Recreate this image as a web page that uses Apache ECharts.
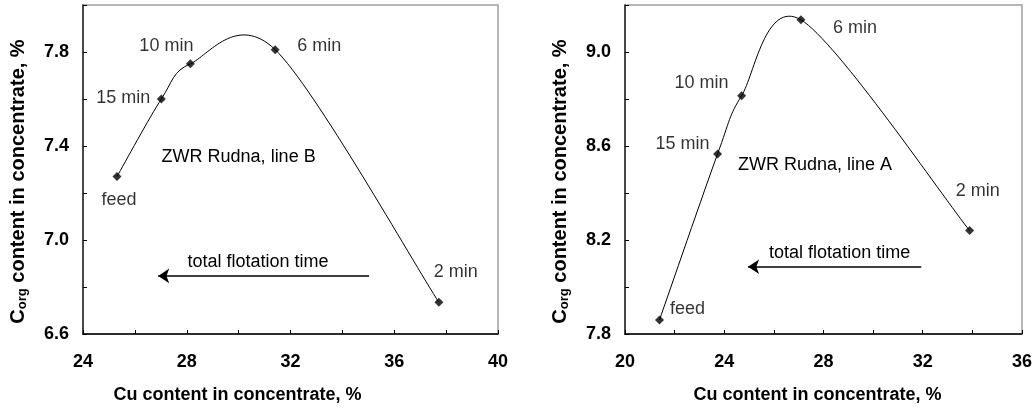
<!DOCTYPE html>
<html><head><meta charset="utf-8">
<script src="https://cdn.jsdelivr.net/npm/echarts@6/dist/echarts.min.js"></script>
<style>html,body{margin:0;padding:0;background:#fff}#c{width:1035px;height:410px}</style>
</head><body><div id="c"></div>
<script>
// ---- data: line B (left) ----
const pointLabelsB = ['feed', '15 min', '10 min', '6 min', '2 min'];
const cuB = [25.31, 27.02, 28.14, 31.41, 37.72];
const corgB = [7.27, 7.60, 7.75, 7.81, 6.735];
const xTickLabelsB = [24, 28, 32, 36, 40];
const yTickLabelsB = [6.6, 7.0, 7.4, 7.8];
const titleB = 'ZWR Rudna, line B';
// ---- data: line A (right) ----
const pointLabelsA = ['feed', '15 min', '10 min', '6 min', '2 min'];
const cuA = [21.39, 23.73, 24.70, 27.09, 33.89];
const corgA = [7.86, 8.566, 8.814, 9.137, 8.24];
const xTickLabelsA = [20, 24, 28, 32, 36];
const yTickLabelsA = [7.8, 8.2, 8.6, 9.0];
const titleA = 'ZWR Rudna, line A';
const arrowText = 'total flotation time';
const xTitle = 'Cu content in concentrate, %';

// annotation anchors (data coords)
const annotB = { title: [30.0, 7.354], text: [30.75, 6.905], arrowFrom: [35.03, 6.847], arrowTo: [26.9, 6.847] };
const annotA = { title: [27.66, 8.52], text: [28.65, 8.146], arrowFrom: [31.94, 8.086], arrowTo: [24.96, 8.086] };

const offsetsB = [[2, 23], [-38, -1], [-24, -18], [44, -4], [17, -30]];
const offsetsA = [[28, -11], [-35, -10], [-40, -13], [54, 8], [8, -40]];

const FONT = '"Liberation Sans", Arial, sans-serif';

function tickFmt(list) {
  return v => list.some(t => Math.abs(t - v) < 1e-6) ? (Number.isInteger(list[0]) ? String(Math.round(v)) : v.toFixed(1)) : '';
}

function xAxisCfg(gi, min, max, list, pad) {
  return {
    type: 'value', gridIndex: gi, min, max, interval: 2,
    name: xTitle, nameLocation: 'middle', nameGap: 52,
    nameTextStyle: { fontFamily: FONT, fontSize: 18, fontWeight: 'bold', color: '#000', padding: pad },
    axisLine: { onZero: false, lineStyle: { color: '#000', width: 1.5 } },
    axisTick: { inside: true, length: 4, lineStyle: { color: '#000', width: 1 } },
    axisLabel: { margin: 19, fontFamily: FONT, fontSize: 18, fontWeight: 'bold', color: '#000', formatter: tickFmt(list), showMaxLabel: true, showMinLabel: true, hideOverlap: false },
    splitLine: { show: false }
  };
}
function yAxisCfg(gi, min, max, list) {
  return {
    type: 'value', gridIndex: gi, min, max, interval: 0.2,
    name: '{m|C}{s|org}{m| content in concentrate, %}', nameLocation: 'middle', nameGap: 54, nameRotate: 90,
    nameTextStyle: {
      padding: [0, 24, 0, 0],
      rich: {
        m: { fontFamily: FONT, fontSize: 20, fontWeight: 'bold', color: '#000', lineHeight: 21 },
        s: { fontFamily: FONT, fontSize: 13, fontWeight: 'bold', color: '#000', lineHeight: 15, verticalAlign: 'bottom' }
      }
    },
    axisLine: { onZero: false, lineStyle: { color: '#222', width: 1.5 } },
    axisTick: { inside: true, length: 4, lineStyle: { color: '#000', width: 1 } },
    axisLabel: { margin: 14, fontFamily: FONT, fontSize: 18, fontWeight: 'bold', color: '#000', formatter: tickFmt(list), showMaxLabel: true, showMinLabel: true },
    splitLine: { show: false }
  };
}

// smoothed curve (Excel-like cardinal Bezier) drawn through the data points via the axis scales
function curveSeries(gi, xs, ys) {
  return {
    type: 'custom', xAxisIndex: gi, yAxisIndex: gi, silent: true, clip: false,
    data: xs.map((x, i) => [x, ys[i]]),
    encode: { x: 0, y: 1 },
    renderItem: function (params, api) {
      const i = params.dataIndex, n = xs.length;
      if (i >= n - 1) return null;
      const P = k => { const kk = Math.max(0, Math.min(n - 1, k)); return api.coord([xs[kk], ys[kk]]); };
      const p0 = P(i - 1), p1 = P(i), p2 = P(i + 1), p3 = P(i + 2);
      const t = 0.155;
      return {
        type: 'bezierCurve',
        shape: {
          x1: p1[0], y1: p1[1], x2: p2[0], y2: p2[1],
          cpx1: p1[0] + (p2[0] - p0[0]) * t, cpy1: p1[1] + (p2[1] - p0[1]) * t,
          cpx2: p2[0] - (p3[0] - p1[0]) * t, cpy2: p2[1] - (p3[1] - p1[1]) * t
        },
        style: { stroke: '#000', lineWidth: 1, fill: null }
      };
    }
  };
}

function pointSeries(gi, xs, ys, names, offs, an, title) {
  return {
    type: 'scatter', xAxisIndex: gi, yAxisIndex: gi, z: 3,
    symbol: 'diamond', symbolSize: 9,
    itemStyle: { color: '#000' },
    data: xs.map((x, i) => ({ name: names[i], value: [x, ys[i]], label: { offset: offs[i] } })),
    label: { show: true, position: 'inside', formatter: p => p.name, fontFamily: FONT, fontSize: 18, color: '#000' },
    emphasis: { disabled: true },
    markPoint: {
      symbol: 'circle', symbolSize: 0, silent: true,
      label: { show: true, position: 'inside', formatter: p => p.name, fontFamily: FONT, fontSize: 18, color: '#000' },
      data: [
        { name: title, coord: an.title },
        { name: arrowText, coord: an.text }
      ]
    },
    markLine: {
      silent: true, symbol: ['none', 'arrow'], symbolSize: 11,
      lineStyle: { color: '#000', width: 1.5, type: 'solid' },
      label: { show: false },
      data: [[{ coord: an.arrowFrom }, { coord: an.arrowTo }]]
    }
  };
}

const chart = echarts.init(document.getElementById('c'), null, { renderer: 'canvas' });
chart.setOption({
  animation: false,
  backgroundColor: '#fff',
  grid: [
    { left: 83, right: 537, top: 5, bottom: 76, show: true, borderColor: '#a0a0a0', borderWidth: 1.5, backgroundColor: 'transparent' },
    { left: 625, right: 7, top: 5, bottom: 76, show: true, borderColor: '#a0a0a0', borderWidth: 1.5, backgroundColor: 'transparent' }
  ],
  xAxis: [xAxisCfg(0, 24, 40, xTickLabelsB, [0, 106, 0, 0]), xAxisCfg(1, 20, 36, xTickLabelsA, [0, 12, 0, 0])],
  yAxis: [yAxisCfg(0, 6.6, 8.0, yTickLabelsB), yAxisCfg(1, 7.8, 9.2, yTickLabelsA)],
  series: [
    curveSeries(0, cuB, corgB),
    pointSeries(0, cuB, corgB, pointLabelsB, offsetsB, annotB, titleB),
    curveSeries(1, cuA, corgA),
    pointSeries(1, cuA, corgA, pointLabelsA, offsetsA, annotA, titleA)
  ]
});
</script></body></html>
